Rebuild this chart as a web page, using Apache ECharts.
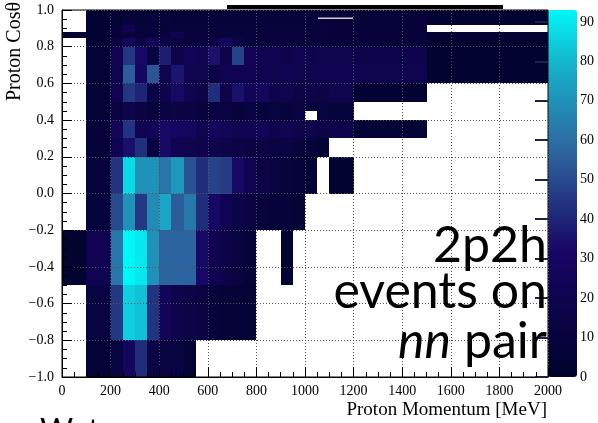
<!DOCTYPE html>
<html><head><meta charset="utf-8">
<script src="https://cdn.jsdelivr.net/npm/echarts@6/dist/echarts.min.js"></script>
<style>html,body{margin:0;padding:0;background:#fff;}#c{width:598px;height:423px;}</style>
</head><body><div id="c"></div>
<script>
// ---- tick labels ----
const xTicks = [0,200,400,600,800,1000,1200,1400,1600,1800,2000];
const yTicks = [-1.0,-0.8,-0.6,-0.4,-0.2,0.0,0.2,0.4,0.6,0.8,1.0];
const zTicks = [0,10,20,30,40,50,60,70,80,90];
const zMax = 93;

// ---- histogram cells: each band = rows of [xLow, xHigh, count] ----
const rowM10_M08 = [[100,200,5],[200,250,12],[250,300,28],[300,350,42],[350,400,15],[400,450,12],[450,500,12],[500,550,6]];
const rowM08_M05 = [[100,200,12],[200,250,45],[250,300,85],[300,350,82],[350,400,44],[400,450,24],[450,500,18],[500,550,15],[550,600,12],[600,650,10],[650,700,7],[700,750,6],[750,800,5]];
const rowM05_M02 = [[0,100,2],[100,200,22],[200,250,62],[250,300,93],[300,350,90],[350,400,70],[400,450,57],[450,500,57],[500,550,57],[550,600,32],[600,650,22],[650,700,15],[700,750,12],[750,800,8],[900,950,4]];
const rowM02_P00 = [[100,200,10],[200,250,50],[250,300,70],[300,350,45],[350,400,68],[400,450,76],[450,500,55],[500,550,63],[550,600,42],[600,650,32],[650,700,22],[700,750,15],[750,800,12],[800,850,10],[850,900,8],[900,950,8],[950,1000,6]];
const rowP00_P02 = [[100,200,10],[200,250,44],[250,300,87],[300,350,70],[350,400,70],[400,450,62],[450,500,72],[500,550,52],[550,600,42],[600,650,48],[650,700,46],[700,750,32],[750,800,22],[800,850,15],[850,900,12],[900,950,10],[950,1000,8],[1000,1050,6],[1100,1200,3]];
const rowP02_P03 = [[100,200,8],[200,250,22],[250,300,34],[300,350,43],[350,400,12],[400,450,32],[450,500,22],[500,550,20],[550,600,18],[600,650,20],[650,700,18],[700,750,15],[750,800,14],[800,850,14],[850,900,12],[900,950,12],[950,1000,10],[1000,1050,8],[1050,1100,6]];
const rowP03_P04 = [[100,200,8],[200,250,25],[250,300,44],[300,350,22],[350,400,24],[400,450,32],[450,500,30],[500,550,28],[550,600,20],[600,650,28],[650,700,25],[700,750,20],[750,800,22],[800,850,24],[850,900,18],[900,950,22],[950,1000,18],[1000,1050,18],[1050,1100,16],[1100,1200,18],[1200,1500,5]];
const rowP04_P05 = [[100,200,5],[200,250,12],[250,300,18],[300,350,14],[350,400,10],[400,450,12],[450,500,14],[500,550,14],[550,600,10],[600,650,12],[650,700,12],[700,750,10],[750,800,12],[800,850,10],[850,900,12],[900,950,10],[950,1000,12],[1050,1100,12],[1100,1200,10]];
const rowP045_P05 = [[1000,1050,10]];
const rowP05_P06 = [[100,200,6],[200,250,22],[250,300,45],[300,350,40],[350,400,15],[400,450,18],[450,500,32],[500,550,20],[550,600,16],[600,650,42],[650,700,18],[700,750,35],[750,800,24],[800,850,28],[850,900,18],[900,950,20],[950,1000,15],[1000,1050,18],[1050,1100,15],[1100,1200,20],[1200,1500,4]];
const rowP06_P07 = [[100,200,6],[200,250,22],[250,300,55],[300,350,30],[350,400,53],[400,450,20],[450,500,36],[500,550,20],[550,600,20],[600,650,16],[650,700,22],[700,750,22],[750,800,22],[800,850,22],[850,900,20],[900,950,22],[950,1000,20],[1000,1050,20],[1050,1100,22],[1100,1200,22],[1200,1500,20],[1500,2000,3]];
const rowP07_P08 = [[100,200,6],[200,250,22],[250,300,45],[300,350,32],[350,400,14],[400,450,38],[450,500,18],[500,550,24],[550,600,22],[600,650,35],[650,700,18],[700,750,48],[750,800,24],[800,850,22],[850,900,22],[900,950,18],[950,1000,22],[1000,1050,18],[1050,1100,20],[1100,1200,20],[1200,1500,18],[1500,2000,3]];
const rowP08_P085 = [[100,200,5],[200,250,12],[250,300,25],[300,350,15],[350,400,24],[400,450,15],[450,500,12],[500,550,12],[550,600,12],[600,650,15],[650,700,28],[700,750,15],[750,1100,10],[1100,1500,8],[1500,2000,3]];
const rowP085_P088 = [[0,100,3],[100,200,4],[200,250,8],[250,300,10],[300,350,8],[350,400,10],[400,450,12],[450,500,22],[500,750,10],[750,1100,10],[1100,1500,8],[1500,2000,3]];
const rowP088_P092 = [[100,200,4],[200,250,8],[250,300,22],[300,350,10],[350,400,10],[400,450,8],[450,500,10],[500,750,9],[750,1100,9],[1100,1500,8]];
const rowP092_P100 = [[100,200,4],[200,250,6],[250,300,10],[300,350,8],[350,400,8],[400,450,9],[450,500,8],[500,750,8],[750,1100,8],[1100,1500,7],[1500,2000,3]];

const bands = [
  [-1.0,-0.8,rowM10_M08],[-0.8,-0.5,rowM08_M05],[-0.5,-0.2,rowM05_M02],[-0.2,0.0,rowM02_P00],
  [0.0,0.2,rowP00_P02],[0.2,0.3,rowP02_P03],[0.3,0.4,rowP03_P04],[0.4,0.5,rowP04_P05],[0.45,0.5,rowP045_P05],
  [0.5,0.6,rowP05_P06],[0.6,0.7,rowP06_P07],[0.7,0.8,rowP07_P08],[0.8,0.85,rowP08_P085],
  [0.85,0.88,rowP085_P088],[0.88,0.92,rowP088_P092],[0.92,1.0,rowP092_P100]
];

const cells = [];
bands.forEach(([y0,y1,row]) => row.forEach(([x0,x1,v]) => cells.push([x0,x1,y0,y1,v])));

// ROOT "Deep Sea" palette stops (styling)
const stops = [0,0.34,0.61,0.84,1.0];
const sr = [0.00,0.09,0.18,0.09,0.00], sg=[0.01,0.02,0.39,0.68,0.97], sb=[0.17,0.39,0.62,0.79,0.97];
const palette = [];
for (let i=0;i<=40;i++){
  const t=i/40; let k=0; while(k<3 && t>stops[k+1]) k++;
  const f=(t-stops[k])/(stops[k+1]-stops[k]);
  const c=a=>Math.round(255*(a[k]+(a[k+1]-a[k])*f));
  palette.push('rgb('+c(sr)+','+c(sg)+','+c(sb)+')');
}

const serif = 'Liberation Serif';
const fmtY = v => { const s=Math.abs(v).toFixed(1); return (v< -1e-9 ? '\u2212' : '') + s; };

const chart = echarts.init(document.getElementById('c'), null, {renderer:'canvas'});
chart.setOption({
  animation:false,
  backgroundColor:'#fff',
  grid:[
    {left:62, top:10, width:486, height:367, show:true, borderColor:'#000', borderWidth:1, backgroundColor:'transparent', z:10},
    {left:548, top:10, width:29, height:367, show:false}
  ],
  xAxis:[
    {type:'value', gridIndex:0, min:0, max:2000, interval:200, z:10,
     axisLine:{show:true, onZero:false, lineStyle:{color:'#000', width:1}},
     axisTick:{show:true, inside:true, length:10, lineStyle:{color:'#000'}},
     minorTick:{show:true, splitNumber:4, length:5, lineStyle:{color:'#000'}},
     splitLine:{show:true, lineStyle:{color:'#555', type:[1,2], width:1}},
     axisLabel:{customValues:xTicks, formatter:v => String(v), fontFamily:serif, fontSize:14, color:'#000', margin:7}},
    {type:'value', gridIndex:1, show:false, min:0, max:1}
  ],
  yAxis:[
    {type:'value', gridIndex:0, min:-1, max:1, interval:0.2, z:10,
     axisLine:{show:true, onZero:false, lineStyle:{color:'#000', width:1}},
     axisTick:{show:true, inside:true, length:10, lineStyle:{color:'#000'}},
     minorTick:{show:true, splitNumber:4, length:5, lineStyle:{color:'#000'}},
     splitLine:{show:true, lineStyle:{color:'#555', type:[1,2], width:1}},
     axisLabel:{customValues:yTicks, formatter:fmtY, fontFamily:serif, fontSize:14, color:'#000', margin:8}},
    {type:'value', gridIndex:1, position:'right', min:0, max:zMax, z:10,
     axisLine:{show:false},
     axisTick:{show:true, inside:true, length:13, customValues:zTicks, lineStyle:{color:'#1b2440', width:2}},
     splitLine:{show:false},
     axisLabel:{customValues:zTicks, formatter:v => String(v), fontFamily:serif, fontSize:14, color:'#000', margin:3}}
  ],
  visualMap:{type:'continuous', min:0, max:zMax, dimension:4, seriesIndex:0,
    inRange:{color:palette}, left:548, top:10, itemWidth:29, itemHeight:367,
    calculable:false, padding:0, hoverLink:false, show:true, text:null},
  series:[{
    type:'custom', xAxisIndex:0, yAxisIndex:0, z:2,
    encode:{x:[0,1], y:[2,3]},
    data:cells,
    renderItem:(params, api) => {
      const p0 = api.coord([api.value(0), api.value(3)]);
      const p1 = api.coord([api.value(1), api.value(2)]);
      const x0=Math.round(p0[0]), y0=Math.round(p0[1]), x1=Math.round(p1[0]), y1=Math.round(p1[1]);
      return {type:'rect', shape:{x:x0, y:y0, width:x1-x0, height:y1-y0}, style:{fill:api.visual('color')}};
    }
  }],
  graphic:[
    {type:'rect', shape:{x:227, y:5, width:276, height:4}, style:{fill:'#000'}, z:20},
    {type:'rect', shape:{x:318, y:17.5, width:35, height:1.5}, style:{fill:'#cfcfcf'}, z:20},
    {type:'text', x:15, y:2, rotation:Math.PI/2, style:{text:'Proton Cos\u03b8', fontFamily:serif, fontSize:20, fill:'#000', align:'right', verticalAlign:'middle'}, z:20},
    {type:'text', x:547, y:410, style:{text:'Proton Momentum [MeV]', fontFamily:serif, fontSize:19, fill:'#000', align:'right', verticalAlign:'middle'}, z:20},
    {type:'text', x:547, y:246, style:{text:'2p2h', fontFamily:'Lato', fontSize:50, fill:'#000', align:'right', verticalAlign:'middle'}, z:20},
    {type:'text', x:547, y:292, style:{text:'events on', fontFamily:'Lato', fontSize:50, fill:'#000', align:'right', verticalAlign:'middle'}, z:20},
    {type:'text', x:547, y:342, style:{text:'{i|nn} pair', fontFamily:'Lato', fontSize:50, fill:'#000', align:'right', verticalAlign:'middle',
      rich:{i:{fontFamily:'Lato', fontSize:50, fontStyle:'italic', fill:'#000'}}}, z:20},
    {type:'text', x:40, y:416, style:{text:'Wet', fontFamily:'Lato', fontSize:32, fill:'#000', align:'left', verticalAlign:'top'}, z:20}
  ]
});
</script></body></html>
